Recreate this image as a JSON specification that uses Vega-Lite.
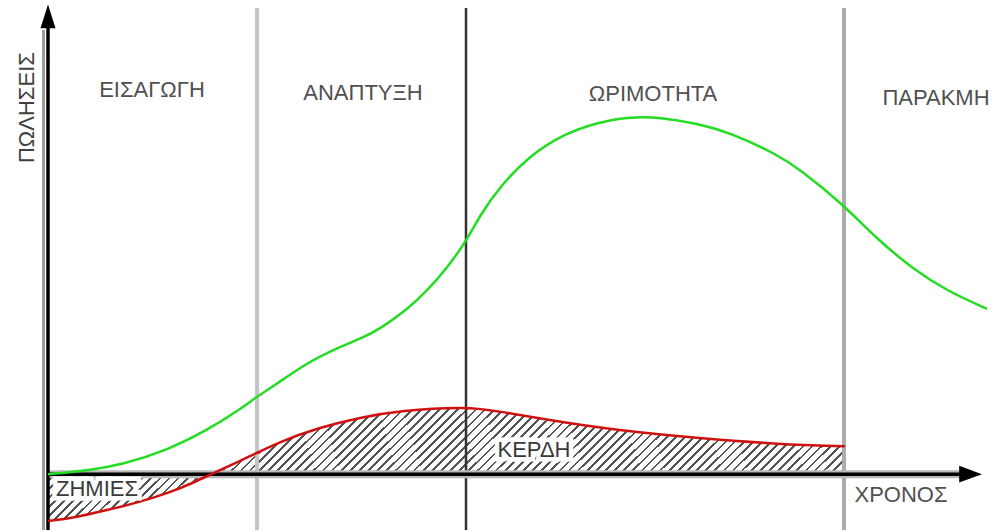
{
  "$schema": "https://vega.github.io/schema/vega-lite/v6.json",
  "width": 996,
  "height": 532,
  "padding": 0,
  "autosize": {"type": "fit", "contains": "padding"},
  "background": "white",
  "config": {"view": {"stroke": null}},
  "datasets": {
    "sales": [
      {"t": 0, "v": 0}, {"t": 42, "v": 4}, {"t": 75, "v": 10}, {"t": 119, "v": 24}, {"t": 159, "v": 44},
      {"t": 192, "v": 65}, {"t": 209, "v": 78}, {"t": 225, "v": 88}, {"t": 259, "v": 112}, {"t": 292, "v": 128},
      {"t": 315, "v": 137}, {"t": 332, "v": 146}, {"t": 359, "v": 165}, {"t": 379, "v": 184}, {"t": 399, "v": 207},
      {"t": 419, "v": 235}, {"t": 432, "v": 260}, {"t": 452, "v": 289}, {"t": 482, "v": 320}, {"t": 515, "v": 341},
      {"t": 549, "v": 353}, {"t": 582, "v": 359}, {"t": 615, "v": 358}, {"t": 649, "v": 352}, {"t": 682, "v": 343},
      {"t": 729, "v": 321}, {"t": 752, "v": 306}, {"t": 795, "v": 271}, {"t": 829, "v": 236}, {"t": 865, "v": 206},
      {"t": 899, "v": 184}, {"t": 939, "v": 166}
    ],
    "profit": [
      {"t": 0, "v": -47}, {"t": 25, "v": -44}, {"t": 59, "v": -36}, {"t": 92, "v": -28}, {"t": 125, "v": -17},
      {"t": 142, "v": -10}, {"t": 165, "v": 1}, {"t": 192, "v": 13}, {"t": 232, "v": 33}, {"t": 272, "v": 47},
      {"t": 312, "v": 57}, {"t": 352, "v": 64}, {"t": 419, "v": 68}, {"t": 452, "v": 63}, {"t": 502, "v": 54},
      {"t": 569, "v": 44}, {"t": 652, "v": 36}, {"t": 732, "v": 30}, {"t": 797, "v": 28}
    ],
    "labels": [
      {"label": "ΕΙΣΑΓΩΓΗ", "t": 104, "v": 386},
      {"label": "ΑΝΑΠΤΥΞΗ", "t": 315, "v": 383},
      {"label": "ΩΡΙΜΟΤΗΤΑ", "t": 605, "v": 382},
      {"label": "ΠΑΡΑΚΜΗ", "t": 888, "v": 378},
      {"label": "ΧΡΟΝΟΣ", "t": 853, "v": -21}
    ],
    "inner": [
      {"label": "ΖΗΜΙΕΣ", "t": 49, "v": -15},
      {"label": "ΚΕΡΔΗ", "t": 486, "v": 24}
    ]
  },
  "layer": [
    {
      "data": {"name": "profit"},
      "mark": {
        "type": "area",
        "interpolate": "basis",
        "fill": {
          "gradient": "linear", "x1": 0, "y1": 0, "x2": 1.12, "y2": 0.1615,
          "stops": [
            {"offset":0,"color":"#555"},{"offset":0.003,"color":"#555"},{"offset":0.003,"color":"#fff"},{"offset":0.01,"color":"#fff"},
            {"offset":0.01,"color":"#555"},{"offset":0.013,"color":"#555"},{"offset":0.013,"color":"#fff"},{"offset":0.02,"color":"#fff"},
            {"offset":0.02,"color":"#555"},{"offset":0.023,"color":"#555"},{"offset":0.023,"color":"#fff"},{"offset":0.03,"color":"#fff"},
            {"offset":0.03,"color":"#555"},{"offset":0.033,"color":"#555"},{"offset":0.033,"color":"#fff"},{"offset":0.04,"color":"#fff"},
            {"offset":0.04,"color":"#555"},{"offset":0.043,"color":"#555"},{"offset":0.043,"color":"#fff"},{"offset":0.05,"color":"#fff"},
            {"offset":0.05,"color":"#555"},{"offset":0.053,"color":"#555"},{"offset":0.053,"color":"#fff"},{"offset":0.06,"color":"#fff"},
            {"offset":0.06,"color":"#555"},{"offset":0.063,"color":"#555"},{"offset":0.063,"color":"#fff"},{"offset":0.07,"color":"#fff"},
            {"offset":0.07,"color":"#555"},{"offset":0.073,"color":"#555"},{"offset":0.073,"color":"#fff"},{"offset":0.08,"color":"#fff"},
            {"offset":0.08,"color":"#555"},{"offset":0.083,"color":"#555"},{"offset":0.083,"color":"#fff"},{"offset":0.09,"color":"#fff"},
            {"offset":0.09,"color":"#555"},{"offset":0.093,"color":"#555"},{"offset":0.093,"color":"#fff"},{"offset":0.1,"color":"#fff"},
            {"offset":0.1,"color":"#555"},{"offset":0.103,"color":"#555"},{"offset":0.103,"color":"#fff"},{"offset":0.11,"color":"#fff"},
            {"offset":0.11,"color":"#555"},{"offset":0.113,"color":"#555"},{"offset":0.113,"color":"#fff"},{"offset":0.12,"color":"#fff"},
            {"offset":0.12,"color":"#555"},{"offset":0.123,"color":"#555"},{"offset":0.123,"color":"#fff"},{"offset":0.13,"color":"#fff"},
            {"offset":0.13,"color":"#555"},{"offset":0.133,"color":"#555"},{"offset":0.133,"color":"#fff"},{"offset":0.14,"color":"#fff"},
            {"offset":0.14,"color":"#555"},{"offset":0.143,"color":"#555"},{"offset":0.143,"color":"#fff"},{"offset":0.15,"color":"#fff"},
            {"offset":0.15,"color":"#555"},{"offset":0.153,"color":"#555"},{"offset":0.153,"color":"#fff"},{"offset":0.16,"color":"#fff"},
            {"offset":0.16,"color":"#555"},{"offset":0.163,"color":"#555"},{"offset":0.163,"color":"#fff"},{"offset":0.17,"color":"#fff"},
            {"offset":0.17,"color":"#555"},{"offset":0.173,"color":"#555"},{"offset":0.173,"color":"#fff"},{"offset":0.18,"color":"#fff"},
            {"offset":0.18,"color":"#555"},{"offset":0.183,"color":"#555"},{"offset":0.183,"color":"#fff"},{"offset":0.19,"color":"#fff"},
            {"offset":0.19,"color":"#555"},{"offset":0.193,"color":"#555"},{"offset":0.193,"color":"#fff"},{"offset":0.2,"color":"#fff"},
            {"offset":0.2,"color":"#555"},{"offset":0.203,"color":"#555"},{"offset":0.203,"color":"#fff"},{"offset":0.21,"color":"#fff"},
            {"offset":0.21,"color":"#555"},{"offset":0.213,"color":"#555"},{"offset":0.213,"color":"#fff"},{"offset":0.22,"color":"#fff"},
            {"offset":0.22,"color":"#555"},{"offset":0.223,"color":"#555"},{"offset":0.223,"color":"#fff"},{"offset":0.23,"color":"#fff"},
            {"offset":0.23,"color":"#555"},{"offset":0.233,"color":"#555"},{"offset":0.233,"color":"#fff"},{"offset":0.24,"color":"#fff"},
            {"offset":0.24,"color":"#555"},{"offset":0.243,"color":"#555"},{"offset":0.243,"color":"#fff"},{"offset":0.25,"color":"#fff"},
            {"offset":0.25,"color":"#555"},{"offset":0.253,"color":"#555"},{"offset":0.253,"color":"#fff"},{"offset":0.26,"color":"#fff"},
            {"offset":0.26,"color":"#555"},{"offset":0.263,"color":"#555"},{"offset":0.263,"color":"#fff"},{"offset":0.27,"color":"#fff"},
            {"offset":0.27,"color":"#555"},{"offset":0.273,"color":"#555"},{"offset":0.273,"color":"#fff"},{"offset":0.28,"color":"#fff"},
            {"offset":0.28,"color":"#555"},{"offset":0.283,"color":"#555"},{"offset":0.283,"color":"#fff"},{"offset":0.29,"color":"#fff"},
            {"offset":0.29,"color":"#555"},{"offset":0.293,"color":"#555"},{"offset":0.293,"color":"#fff"},{"offset":0.3,"color":"#fff"},
            {"offset":0.3,"color":"#555"},{"offset":0.303,"color":"#555"},{"offset":0.303,"color":"#fff"},{"offset":0.31,"color":"#fff"},
            {"offset":0.31,"color":"#555"},{"offset":0.313,"color":"#555"},{"offset":0.313,"color":"#fff"},{"offset":0.32,"color":"#fff"},
            {"offset":0.32,"color":"#555"},{"offset":0.323,"color":"#555"},{"offset":0.323,"color":"#fff"},{"offset":0.33,"color":"#fff"},
            {"offset":0.33,"color":"#555"},{"offset":0.333,"color":"#555"},{"offset":0.333,"color":"#fff"},{"offset":0.34,"color":"#fff"},
            {"offset":0.34,"color":"#555"},{"offset":0.343,"color":"#555"},{"offset":0.343,"color":"#fff"},{"offset":0.35,"color":"#fff"},
            {"offset":0.35,"color":"#555"},{"offset":0.353,"color":"#555"},{"offset":0.353,"color":"#fff"},{"offset":0.36,"color":"#fff"},
            {"offset":0.36,"color":"#555"},{"offset":0.363,"color":"#555"},{"offset":0.363,"color":"#fff"},{"offset":0.37,"color":"#fff"},
            {"offset":0.37,"color":"#555"},{"offset":0.373,"color":"#555"},{"offset":0.373,"color":"#fff"},{"offset":0.38,"color":"#fff"},
            {"offset":0.38,"color":"#555"},{"offset":0.383,"color":"#555"},{"offset":0.383,"color":"#fff"},{"offset":0.39,"color":"#fff"},
            {"offset":0.39,"color":"#555"},{"offset":0.393,"color":"#555"},{"offset":0.393,"color":"#fff"},{"offset":0.4,"color":"#fff"},
            {"offset":0.4,"color":"#555"},{"offset":0.403,"color":"#555"},{"offset":0.403,"color":"#fff"},{"offset":0.41,"color":"#fff"},
            {"offset":0.41,"color":"#555"},{"offset":0.413,"color":"#555"},{"offset":0.413,"color":"#fff"},{"offset":0.42,"color":"#fff"},
            {"offset":0.42,"color":"#555"},{"offset":0.423,"color":"#555"},{"offset":0.423,"color":"#fff"},{"offset":0.43,"color":"#fff"},
            {"offset":0.43,"color":"#555"},{"offset":0.433,"color":"#555"},{"offset":0.433,"color":"#fff"},{"offset":0.44,"color":"#fff"},
            {"offset":0.44,"color":"#555"},{"offset":0.443,"color":"#555"},{"offset":0.443,"color":"#fff"},{"offset":0.45,"color":"#fff"},
            {"offset":0.45,"color":"#555"},{"offset":0.453,"color":"#555"},{"offset":0.453,"color":"#fff"},{"offset":0.46,"color":"#fff"},
            {"offset":0.46,"color":"#555"},{"offset":0.463,"color":"#555"},{"offset":0.463,"color":"#fff"},{"offset":0.47,"color":"#fff"},
            {"offset":0.47,"color":"#555"},{"offset":0.473,"color":"#555"},{"offset":0.473,"color":"#fff"},{"offset":0.48,"color":"#fff"},
            {"offset":0.48,"color":"#555"},{"offset":0.483,"color":"#555"},{"offset":0.483,"color":"#fff"},{"offset":0.49,"color":"#fff"},
            {"offset":0.49,"color":"#555"},{"offset":0.493,"color":"#555"},{"offset":0.493,"color":"#fff"},{"offset":0.5,"color":"#fff"},
            {"offset":0.5,"color":"#555"},{"offset":0.503,"color":"#555"},{"offset":0.503,"color":"#fff"},{"offset":0.51,"color":"#fff"},
            {"offset":0.51,"color":"#555"},{"offset":0.513,"color":"#555"},{"offset":0.513,"color":"#fff"},{"offset":0.52,"color":"#fff"},
            {"offset":0.52,"color":"#555"},{"offset":0.523,"color":"#555"},{"offset":0.523,"color":"#fff"},{"offset":0.53,"color":"#fff"},
            {"offset":0.53,"color":"#555"},{"offset":0.533,"color":"#555"},{"offset":0.533,"color":"#fff"},{"offset":0.54,"color":"#fff"},
            {"offset":0.54,"color":"#555"},{"offset":0.543,"color":"#555"},{"offset":0.543,"color":"#fff"},{"offset":0.55,"color":"#fff"},
            {"offset":0.55,"color":"#555"},{"offset":0.553,"color":"#555"},{"offset":0.553,"color":"#fff"},{"offset":0.56,"color":"#fff"},
            {"offset":0.56,"color":"#555"},{"offset":0.563,"color":"#555"},{"offset":0.563,"color":"#fff"},{"offset":0.57,"color":"#fff"},
            {"offset":0.57,"color":"#555"},{"offset":0.573,"color":"#555"},{"offset":0.573,"color":"#fff"},{"offset":0.58,"color":"#fff"},
            {"offset":0.58,"color":"#555"},{"offset":0.583,"color":"#555"},{"offset":0.583,"color":"#fff"},{"offset":0.59,"color":"#fff"},
            {"offset":0.59,"color":"#555"},{"offset":0.593,"color":"#555"},{"offset":0.593,"color":"#fff"},{"offset":0.6,"color":"#fff"},
            {"offset":0.6,"color":"#555"},{"offset":0.603,"color":"#555"},{"offset":0.603,"color":"#fff"},{"offset":0.61,"color":"#fff"},
            {"offset":0.61,"color":"#555"},{"offset":0.613,"color":"#555"},{"offset":0.613,"color":"#fff"},{"offset":0.62,"color":"#fff"},
            {"offset":0.62,"color":"#555"},{"offset":0.623,"color":"#555"},{"offset":0.623,"color":"#fff"},{"offset":0.63,"color":"#fff"},
            {"offset":0.63,"color":"#555"},{"offset":0.633,"color":"#555"},{"offset":0.633,"color":"#fff"},{"offset":0.64,"color":"#fff"},
            {"offset":0.64,"color":"#555"},{"offset":0.643,"color":"#555"},{"offset":0.643,"color":"#fff"},{"offset":0.65,"color":"#fff"},
            {"offset":0.65,"color":"#555"},{"offset":0.653,"color":"#555"},{"offset":0.653,"color":"#fff"},{"offset":0.66,"color":"#fff"},
            {"offset":0.66,"color":"#555"},{"offset":0.663,"color":"#555"},{"offset":0.663,"color":"#fff"},{"offset":0.67,"color":"#fff"},
            {"offset":0.67,"color":"#555"},{"offset":0.673,"color":"#555"},{"offset":0.673,"color":"#fff"},{"offset":0.68,"color":"#fff"},
            {"offset":0.68,"color":"#555"},{"offset":0.683,"color":"#555"},{"offset":0.683,"color":"#fff"},{"offset":0.69,"color":"#fff"},
            {"offset":0.69,"color":"#555"},{"offset":0.693,"color":"#555"},{"offset":0.693,"color":"#fff"},{"offset":0.7,"color":"#fff"},
            {"offset":0.7,"color":"#555"},{"offset":0.703,"color":"#555"},{"offset":0.703,"color":"#fff"},{"offset":0.71,"color":"#fff"},
            {"offset":0.71,"color":"#555"},{"offset":0.713,"color":"#555"},{"offset":0.713,"color":"#fff"},{"offset":0.72,"color":"#fff"},
            {"offset":0.72,"color":"#555"},{"offset":0.723,"color":"#555"},{"offset":0.723,"color":"#fff"},{"offset":0.73,"color":"#fff"},
            {"offset":0.73,"color":"#555"},{"offset":0.733,"color":"#555"},{"offset":0.733,"color":"#fff"},{"offset":0.74,"color":"#fff"},
            {"offset":0.74,"color":"#555"},{"offset":0.743,"color":"#555"},{"offset":0.743,"color":"#fff"},{"offset":0.75,"color":"#fff"},
            {"offset":0.75,"color":"#555"},{"offset":0.753,"color":"#555"},{"offset":0.753,"color":"#fff"},{"offset":0.76,"color":"#fff"},
            {"offset":0.76,"color":"#555"},{"offset":0.763,"color":"#555"},{"offset":0.763,"color":"#fff"},{"offset":0.77,"color":"#fff"},
            {"offset":0.77,"color":"#555"},{"offset":0.773,"color":"#555"},{"offset":0.773,"color":"#fff"},{"offset":0.78,"color":"#fff"},
            {"offset":0.78,"color":"#555"},{"offset":0.783,"color":"#555"},{"offset":0.783,"color":"#fff"},{"offset":0.79,"color":"#fff"},
            {"offset":0.79,"color":"#555"},{"offset":0.793,"color":"#555"},{"offset":0.793,"color":"#fff"},{"offset":0.8,"color":"#fff"},
            {"offset":0.8,"color":"#555"},{"offset":0.803,"color":"#555"},{"offset":0.803,"color":"#fff"},{"offset":0.81,"color":"#fff"},
            {"offset":0.81,"color":"#555"},{"offset":0.813,"color":"#555"},{"offset":0.813,"color":"#fff"},{"offset":0.82,"color":"#fff"},
            {"offset":0.82,"color":"#555"},{"offset":0.823,"color":"#555"},{"offset":0.823,"color":"#fff"},{"offset":0.83,"color":"#fff"},
            {"offset":0.83,"color":"#555"},{"offset":0.833,"color":"#555"},{"offset":0.833,"color":"#fff"},{"offset":0.84,"color":"#fff"},
            {"offset":0.84,"color":"#555"},{"offset":0.843,"color":"#555"},{"offset":0.843,"color":"#fff"},{"offset":0.85,"color":"#fff"},
            {"offset":0.85,"color":"#555"},{"offset":0.853,"color":"#555"},{"offset":0.853,"color":"#fff"},{"offset":0.86,"color":"#fff"},
            {"offset":0.86,"color":"#555"},{"offset":0.863,"color":"#555"},{"offset":0.863,"color":"#fff"},{"offset":0.87,"color":"#fff"},
            {"offset":0.87,"color":"#555"},{"offset":0.873,"color":"#555"},{"offset":0.873,"color":"#fff"},{"offset":0.88,"color":"#fff"},
            {"offset":0.88,"color":"#555"},{"offset":0.883,"color":"#555"},{"offset":0.883,"color":"#fff"},{"offset":0.89,"color":"#fff"},
            {"offset":0.89,"color":"#555"},{"offset":0.893,"color":"#555"},{"offset":0.893,"color":"#fff"},{"offset":0.9,"color":"#fff"},
            {"offset":0.9,"color":"#555"},{"offset":0.903,"color":"#555"},{"offset":0.903,"color":"#fff"},{"offset":0.91,"color":"#fff"},
            {"offset":0.91,"color":"#555"},{"offset":0.913,"color":"#555"},{"offset":0.913,"color":"#fff"},{"offset":0.92,"color":"#fff"},
            {"offset":0.92,"color":"#555"},{"offset":0.923,"color":"#555"},{"offset":0.923,"color":"#fff"},{"offset":0.93,"color":"#fff"},
            {"offset":0.93,"color":"#555"},{"offset":0.933,"color":"#555"},{"offset":0.933,"color":"#fff"},{"offset":0.94,"color":"#fff"},
            {"offset":0.94,"color":"#555"},{"offset":0.943,"color":"#555"},{"offset":0.943,"color":"#fff"},{"offset":0.95,"color":"#fff"},
            {"offset":0.95,"color":"#555"},{"offset":0.953,"color":"#555"},{"offset":0.953,"color":"#fff"},{"offset":0.96,"color":"#fff"},
            {"offset":0.96,"color":"#555"},{"offset":0.963,"color":"#555"},{"offset":0.963,"color":"#fff"},{"offset":0.97,"color":"#fff"},
            {"offset":0.97,"color":"#555"},{"offset":0.973,"color":"#555"},{"offset":0.973,"color":"#fff"},{"offset":0.98,"color":"#fff"},
            {"offset":0.98,"color":"#555"},{"offset":0.983,"color":"#555"},{"offset":0.983,"color":"#fff"},{"offset":0.99,"color":"#fff"},
            {"offset":0.99,"color":"#555"},{"offset":0.993,"color":"#555"},{"offset":0.993,"color":"#fff"},{"offset":1,"color":"#fff"}
          ]
        }
      },
      "encoding": {
        "x": {"field": "t", "type": "quantitative", "scale": {"domain": [-48, 948], "nice": false, "zero": false}, "axis": null},
        "y": {"field": "v", "type": "quantitative", "scale": {"domain": [-56, 476], "nice": false, "zero": false}, "axis": null},
        "y2": {"datum": 0}
      }
    },
    {
      "data": {"values": [{"t": 209, "v": -56, "v2": 468}]},
      "mark": {"type": "rule", "color": "#c4c4c4", "strokeWidth": 4},
      "encoding": {
        "x": {"field": "t", "type": "quantitative", "scale": {"domain": [-48, 948], "nice": false, "zero": false}, "axis": null},
        "y": {"field": "v", "type": "quantitative", "scale": {"domain": [-56, 476], "nice": false, "zero": false}, "axis": null},
        "y2": {"field": "v2"}
      }
    },
    {
      "data": {"values": [{"t": 418, "v": -56, "v2": 468}]},
      "mark": {"type": "rule", "color": "#333333", "strokeWidth": 2.5},
      "encoding": {
        "x": {"field": "t", "type": "quantitative", "scale": {"domain": [-48, 948], "nice": false, "zero": false}, "axis": null},
        "y": {"field": "v", "type": "quantitative", "scale": {"domain": [-56, 476], "nice": false, "zero": false}, "axis": null},
        "y2": {"field": "v2"}
      }
    },
    {
      "data": {"values": [{"t": 796, "v": -56, "v2": 468}]},
      "mark": {"type": "rule", "color": "#ababab", "strokeWidth": 4},
      "encoding": {
        "x": {"field": "t", "type": "quantitative", "scale": {"domain": [-48, 948], "nice": false, "zero": false}, "axis": null},
        "y": {"field": "v", "type": "quantitative", "scale": {"domain": [-56, 476], "nice": false, "zero": false}, "axis": null},
        "y2": {"field": "v2"}
      }
    },
    {
      "data": {"values": [{"t": 0, "v": 0, "t2": 915, "v2": 0}]},
      "mark": {"type": "rule", "color": "#b8b8b8", "strokeWidth": 8},
      "encoding": {
        "x": {"field": "t", "type": "quantitative", "scale": {"domain": [-48, 948], "nice": false, "zero": false}, "axis": null},
        "y": {"field": "v", "type": "quantitative", "scale": {"domain": [-56, 476], "nice": false, "zero": false}, "axis": null},
        "x2": {"field": "t2"},
        "y2": {"field": "v2"}
      }
    },
    {
      "data": {"values": [{"t": -4.5, "v": -56, "t2": -4.5, "v2": 446}]},
      "mark": {"type": "rule", "color": "#9a9a9a", "strokeWidth": 3},
      "encoding": {
        "x": {"field": "t", "type": "quantitative", "scale": {"domain": [-48, 948], "nice": false, "zero": false}, "axis": null},
        "y": {"field": "v", "type": "quantitative", "scale": {"domain": [-56, 476], "nice": false, "zero": false}, "axis": null},
        "x2": {"field": "t2"},
        "y2": {"field": "v2"}
      }
    },
    {
      "data": {"values": [{"t": 0, "v": 0, "t2": 915, "v2": 0}, {"t": 0, "v": -56, "t2": 0, "v2": 455}]},
      "mark": {"type": "rule", "color": "#000000", "strokeWidth": 3.5},
      "encoding": {
        "x": {"field": "t", "type": "quantitative", "scale": {"domain": [-48, 948], "nice": false, "zero": false}, "axis": null},
        "y": {"field": "v", "type": "quantitative", "scale": {"domain": [-56, 476], "nice": false, "zero": false}, "axis": null},
        "x2": {"field": "t2"},
        "y2": {"field": "v2"}
      }
    },
    {
      "data": {"values": [{"t": 0, "v": 459}]},
      "mark": {"type": "point", "filled": true, "color": "#000", "opacity": 1, "size": 625, "shape": "M0,-1L0.6,0.9L-0.6,0.9Z"},
      "encoding": {
        "x": {"field": "t", "type": "quantitative", "scale": {"domain": [-48, 948], "nice": false, "zero": false}, "axis": null},
        "y": {"field": "v", "type": "quantitative", "scale": {"domain": [-56, 476], "nice": false, "zero": false}, "axis": null}
      }
    },
    {
      "data": {"values": [{"t": 922, "v": 0}]},
      "mark": {"type": "point", "filled": true, "color": "#000", "opacity": 1, "size": 576, "shape": "M1,0L-0.9,0.7L-0.9,-0.7Z"},
      "encoding": {
        "x": {"field": "t", "type": "quantitative", "scale": {"domain": [-48, 948], "nice": false, "zero": false}, "axis": null},
        "y": {"field": "v", "type": "quantitative", "scale": {"domain": [-56, 476], "nice": false, "zero": false}, "axis": null}
      }
    },
    {
      "data": {"name": "profit"},
      "mark": {"type": "line", "interpolate": "basis", "color": "#d01010", "strokeWidth": 2.5},
      "encoding": {
        "x": {"field": "t", "type": "quantitative", "scale": {"domain": [-48, 948], "nice": false, "zero": false}, "axis": null},
        "y": {"field": "v", "type": "quantitative", "scale": {"domain": [-56, 476], "nice": false, "zero": false}, "axis": null}
      }
    },
    {
      "data": {"name": "sales"},
      "mark": {"type": "line", "interpolate": "basis", "color": "#22dd22", "strokeWidth": 2.5},
      "encoding": {
        "x": {"field": "t", "type": "quantitative", "scale": {"domain": [-48, 948], "nice": false, "zero": false}, "axis": null},
        "y": {"field": "v", "type": "quantitative", "scale": {"domain": [-56, 476], "nice": false, "zero": false}, "axis": null}
      }
    },
    {
      "data": {"name": "inner"},
      "mark": {"type": "text", "font": "Liberation Sans", "fontSize": 22, "align": "center", "baseline": "middle", "stroke": "#ffffff", "strokeWidth": 9, "fill": "#ffffff"},
      "encoding": {
        "x": {"field": "t", "type": "quantitative", "scale": {"domain": [-48, 948], "nice": false, "zero": false}, "axis": null},
        "y": {"field": "v", "type": "quantitative", "scale": {"domain": [-56, 476], "nice": false, "zero": false}, "axis": null},
        "text": {"field": "label"}
      }
    },
    {
      "data": {"name": "inner"},
      "mark": {"type": "text", "font": "Liberation Sans", "fontSize": 22, "align": "center", "baseline": "middle", "color": "#3a3a3a"},
      "encoding": {
        "x": {"field": "t", "type": "quantitative", "scale": {"domain": [-48, 948], "nice": false, "zero": false}, "axis": null},
        "y": {"field": "v", "type": "quantitative", "scale": {"domain": [-56, 476], "nice": false, "zero": false}, "axis": null},
        "text": {"field": "label"}
      }
    },
    {
      "data": {"name": "labels"},
      "mark": {"type": "text", "font": "Liberation Sans", "fontSize": 22, "align": "center", "baseline": "middle", "color": "#505050"},
      "encoding": {
        "x": {"field": "t", "type": "quantitative", "scale": {"domain": [-48, 948], "nice": false, "zero": false}, "axis": null},
        "y": {"field": "v", "type": "quantitative", "scale": {"domain": [-56, 476], "nice": false, "zero": false}, "axis": null},
        "text": {"field": "label"}
      }
    },
    {
      "data": {"values": [{"label": "ΠΩΛΗΣΕΙΣ", "t": -21, "v": 368}]},
      "mark": {"type": "text", "font": "Liberation Sans", "fontSize": 22, "align": "center", "baseline": "middle", "angle": 270, "color": "#404040"},
      "encoding": {
        "x": {"field": "t", "type": "quantitative", "scale": {"domain": [-48, 948], "nice": false, "zero": false}, "axis": null},
        "y": {"field": "v", "type": "quantitative", "scale": {"domain": [-56, 476], "nice": false, "zero": false}, "axis": null},
        "text": {"field": "label"}
      }
    }
  ]
}
